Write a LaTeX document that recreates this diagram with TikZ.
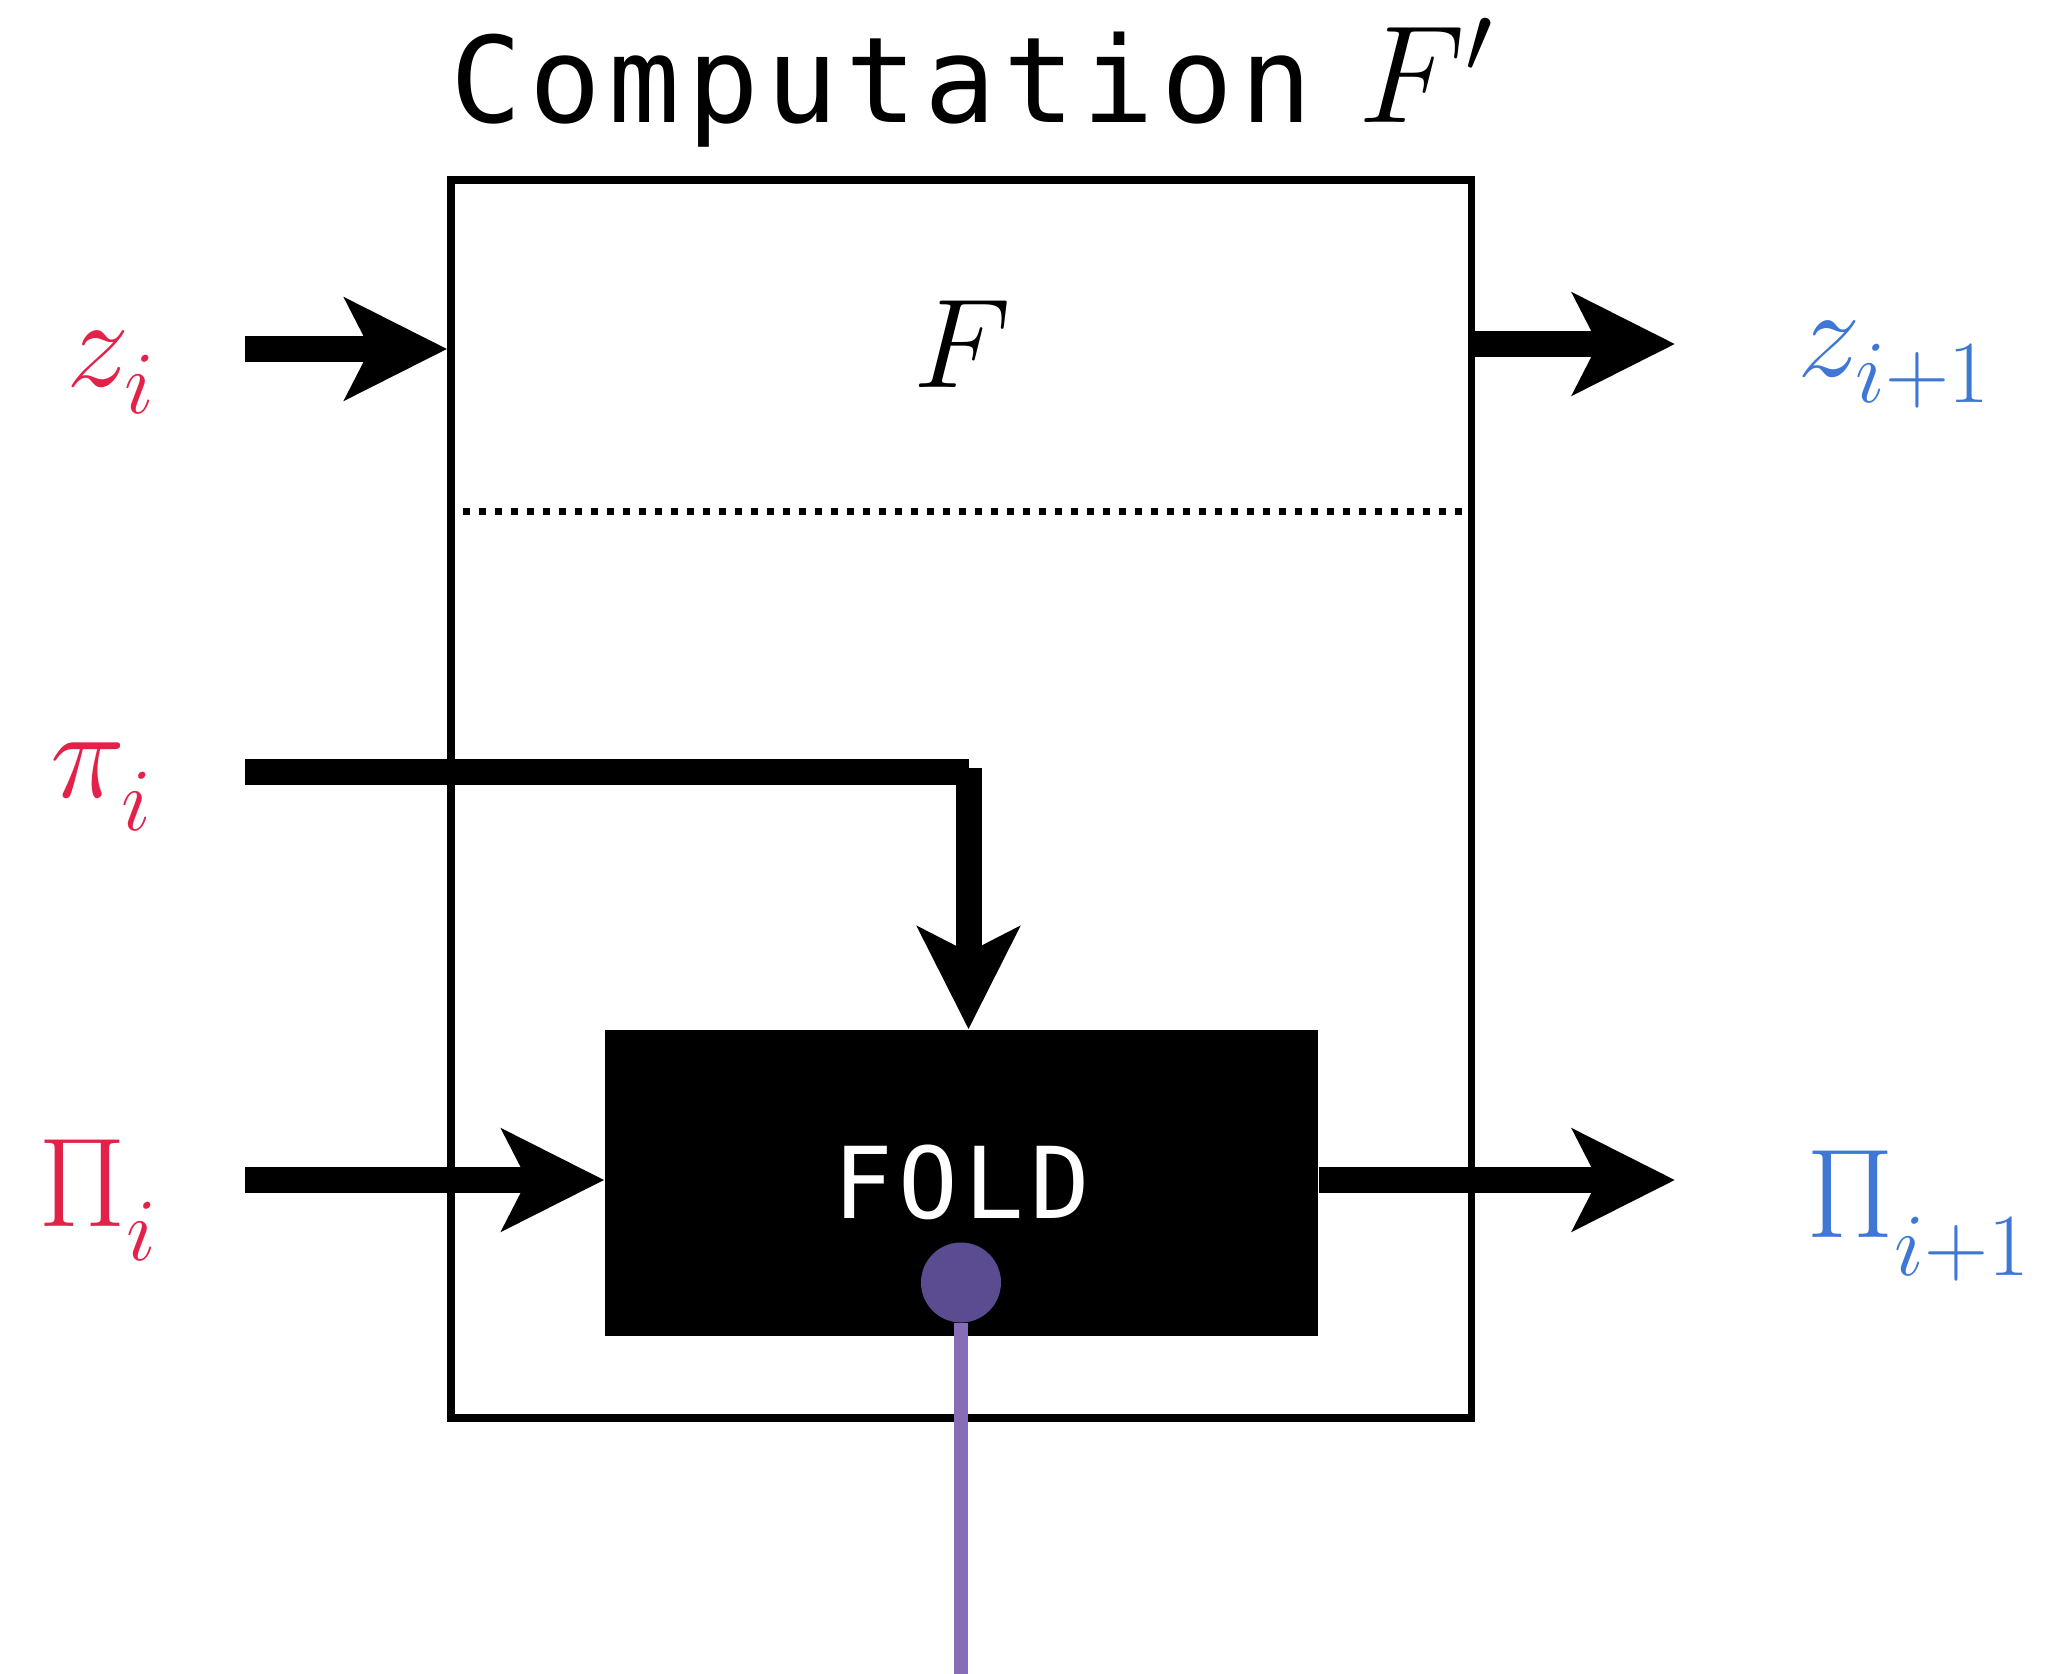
\documentclass[tikz,border=0pt]{standalone}
\usepackage{fix-cm}
\usepackage{fontspec}
\usetikzlibrary{arrows.meta,positioning,calc}
\newfontfamily\codefont[LetterSpace=6.1]{DejaVu Sans Mono}
\definecolor{inred}{HTML}{E3224A}
\definecolor{outblue}{HTML}{3F78D4}
\definecolor{portcol}{HTML}{5B4C92}
\definecolor{wirecol}{HTML}{866DB5}
% subscript set lower than TeX puts it
\newcommand{\dn}[2]{_{\raisebox{-#1}{$\scriptstyle #2$}}}

\begin{document}
\begin{tikzpicture}[
  line cap=butt, line join=miter,
  flow/.style={line width=2.6mm,
               -{Stealth[length=10.2mm, width=10.1mm, inset=2.5mm]}},
  bar/.style={line width=2.6mm},
  lbl/.style={inner sep=0pt, anchor=base west,
              font=\fontsize{36.1}{40}\selectfont},
  frame/.style={draw, line width=0.75mm, inner sep=0pt},
  sep/.style={line width=0.73mm, dash pattern=on 0.73mm off 0.87mm},
  wire/.style={wirecol, line width=1.35mm}]

\useasboundingbox (0,0) rectangle (20.49,-16.74);

\def\xin{2.45}     % where the inputs start
\def\xout{16.75}   % where the outputs end

% ---------------------------------------------------------------- title
\node[anchor=base west, inner sep=0pt] (title) at (4.50,-1.23)
  {{\codefont\fontsize{33.9}{40}\selectfont Computation}\hspace{4.6mm}%
   {\fontsize{39.5}{44}\selectfont $F'$}};

% ---------------------------------------------------------------- frame of F'
\node[frame, minimum width=102.05mm, minimum height=123.8mm] (comp)
  at (9.6125,-7.99) {};
\node[lbl, anchor=base] (f) at (9.62,-3.87) {$F$};
\draw[sep] (4.63,-5.115) -- (14.64,-5.115);

% ---------------------------------------------------------------- fold block
\node[fill=black, text=white, inner sep=0pt, minimum width=71.3mm,
      minimum height=30.56mm, font=\codefont\fontsize{28.2}{32}\selectfont]
  (fold) at (9.615,-11.828) {FOLD};
\node[circle, fill=portcol, minimum size=8mm, inner sep=0pt] (port)
  at (9.61,-12.825) {};
\coordinate (tap) at (9.61,-16.74);
\draw[wire] (port) -- (tap);

% ================================================================ z
\node[lbl, text=inred] (zi) at (0.66,-3.86) {$z\dn{0.8mm}{i}$};
\coordinate (zin) at (\xin,-3.49);
\draw[flow] (zin) -- (comp.west |- zin);
\node[lbl, text=outblue] (zo) at (17.97,-3.76) {$z\dn{0.7mm}{i+1}$};
\coordinate (zout) at (\xout,-3.44);
\draw[flow] (comp.east |- zout) -- (zout);

% ================================================================ pi
\node[lbl, text=inred] (pii) at (0.50,-7.97) {$\pi\dn{1.4mm}{i}$};
\coordinate (piin) at (\xin,-7.72);
\coordinate (bend) at (9.685,-7.72);
\draw[bar] (piin) -- (bend);
\draw[flow] ([yshift=0.4mm]bend) -- (bend |- fold.north);

% ================================================================ Pi
\node[lbl, text=inred] (Pii) at (0.38,-12.26) {$\Pi\dn{1.5mm}{i}$};
\coordinate (Piin) at (\xin,-11.80);
\draw[flow] (Piin) -- (fold.west |- Piin);
\node[lbl, text=outblue] (Pio) at (18.06,-12.37) {$\Pi\dn{1.9mm}{i+1}$};
\coordinate (Piout) at (\xout,-11.80);
\draw[flow] (fold.east |- Piout) -- (Piout);

\end{tikzpicture}
\end{document}
